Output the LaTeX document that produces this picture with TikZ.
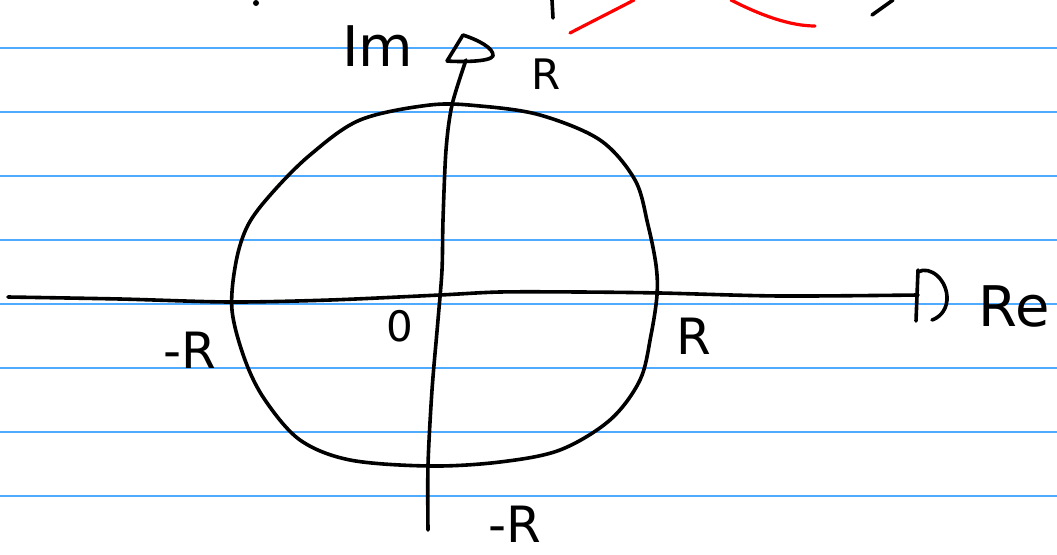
\documentclass[tikz,border=0pt]{standalone}
\usepackage{fontspec}
\setmainfont{DejaVu Sans}
\begin{document}
\begin{tikzpicture}[x=1pt,y=-1pt,
  rule/.style={draw={rgb,255:red,80;green,170;blue,255},line width=1.2pt},
  ink/.style={draw=black,line width=3.6pt,line cap=round,line join=round},
  redink/.style={draw=red,line width=3.2pt,line cap=round},
  lbl/.style={inner sep=0pt,font=\fontsize{56}{58}\selectfont},
  mlbl/.style={inner sep=0pt,font=\fontsize{50}{52}\selectfont},
  slbl/.style={inner sep=0pt,font=\fontsize{42}{44}\selectfont}]
\useasboundingbox (0,0) rectangle (1057,554);
\fill[white] (0,0) rectangle (1057,554);
\foreach \y in {48,112,176,240,304,368,432,496}
  \draw[rule] (0,\y) -- (1057,\y);
% fragments at top
\fill (256,3) circle (3);
\draw[ink] (552,0) -- (553,18);
\draw[redink] (570,33) .. controls (595,20) and (615,10) .. (634,0);
\draw[redink] (731,0) .. controls (760,15) and (790,26) .. (815,26);
\draw[ink] (872,15) -- (893,0);
% circle
\draw[ink] plot[smooth cycle,tension=0.55] coordinates {(430,105) (480,106) (540,115) (600,140) (635,180) (648,225) (656,265) (657,295) (651,335) (640,380) (610,420) (560,450) (500,462) (430,466) (350,460) (300,440) (265,400) (245,360) (232,310) (236,262) (248,225) (272,193) (310,155) (360,120)};
% axes
\coordinate (xs) at (8,297);
\coordinate (xe) at (918,295);
\coordinate (ys) at (428,530);
\coordinate (ye) at (466,60);
\draw[ink] plot[smooth,tension=0.5] coordinates {(xs) (120,299) (230,302) (330,300) (440,295) (500,292) (580,292) (660,293) (780,296) (xe)};
\draw[ink] (918,270) -- (916,321);
\draw[ink] (918,272) .. controls (930,265) and (948,280) .. (947,300) .. controls (946,312) and (938,318) .. (932,320);
\draw[ink] plot[smooth,tension=0.5] coordinates {(ys) (428,465) (432,390) (438,320) (442,270) (443,220) (446,150) (452,105) (ye)};
\draw[ink] (447,61) -- (463,35) .. controls (478,40) and (494,48) .. (493,56) .. controls (490,62) and (460,62) .. (447,61);
% labels
\node[lbl] (im) at (378,46) {Im};
\node[lbl] (re) at (1014,306) {Re};
\node[slbl] (rt) at (546,74) {R};
\node[slbl] (o) at (400,326) {0};
\node[mlbl] (rr) at (694,336) {R};
\node[mlbl] (rl) at (190,350) {-R};
\node[mlbl] (rb) at (515,524) {-R};
\end{tikzpicture}
\end{document}
